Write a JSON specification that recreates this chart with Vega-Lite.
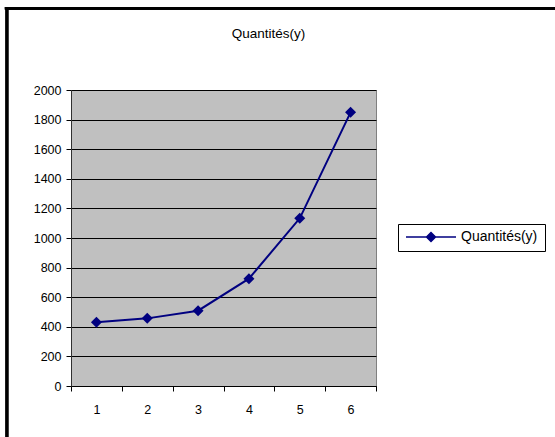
{
  "$schema": "https://vega.github.io/schema/vega-lite/v6.json",
  "autosize": {"type": "none"},
  "width": 305,
  "height": 296,
  "padding": {"left": 71, "top": 90, "right": 179, "bottom": 51},
  "background": "white",
  "title": {
    "text": "Quantités(y)",
    "font": "Liberation Sans",
    "fontSize": 13.5,
    "fontWeight": "normal",
    "color": "black",
    "anchor": "middle",
    "dx": 45,
    "offset": -35
  },
  "data": {
    "values": [
      {"x": 1, "y": 430, "series": "Quantités(y)"},
      {"x": 2, "y": 457, "series": "Quantités(y)"},
      {"x": 3, "y": 509, "series": "Quantités(y)"},
      {"x": 4, "y": 725, "series": "Quantités(y)"},
      {"x": 5, "y": 1133, "series": "Quantités(y)"},
      {"x": 6, "y": 1849, "series": "Quantités(y)"}
    ]
  },
  "resolve": {"axis": {"x": "independent", "y": "independent"}},
  "layer": [
    {
      "mark": {"type": "line", "strokeWidth": 2},
      "encoding": {
        "x": {
          "field": "x",
          "type": "quantitative",
          "scale": {"domain": [0.5, 6.5], "nice": false, "zero": false},
          "axis": {
            "orient": "bottom",
            "title": null,
            "values": [0.5, 1.5, 2.5, 3.5, 4.5, 5.5, 6.5],
            "labelExpr": "datum.value > 6 ? '' : format(datum.value + 0.5, 'd')",
            "labelOffset": 25.4,
            "labelPadding": 12,
            "labelOverlap": false,
            "labelBound": false,
            "labelFlush": false,
            "labelFont": "Liberation Sans",
            "labelFontSize": 12.5,
            "labelColor": "black",
            "tickSize": 5,
            "tickColor": "black",
            "domainColor": "black",
            "grid": false
          }
        },
        "y": {
          "field": "y",
          "type": "quantitative",
          "scale": {"domain": [0, 2000], "nice": false},
          "axis": {
            "orient": "left",
            "title": null,
            "values": [0, 200, 400, 600, 800, 1000, 1200, 1400, 1600, 1800, 2000],
            "format": "d",
            "labelOverlap": false,
            "labelBound": false,
            "labelFlush": false,
            "labelFont": "Liberation Sans",
            "labelFontSize": 12.5,
            "labelColor": "black",
            "labelPadding": 5,
            "tickSize": 5,
            "tickColor": "black",
            "domainColor": "#303030",
            "grid": true,
            "gridColor": "black",
            "gridOpacity": 1,
            "gridWidth": 1
          }
        },
        "color": {
          "field": "series",
          "type": "nominal",
          "scale": {"range": ["#000080"]},
          "legend": {
            "title": null,
            "orient": "none",
            "legendX": 327,
            "legendY": 134,
            "strokeColor": "black",
            "fillColor": "white",
            "padding": 7,
            "symbolType": "M-1,0H1M-0.18,0L0,-0.18L0.18,0L0,0.18Z",
            "symbolSize": 2500,
            "symbolStrokeWidth": 1.5,
            "symbolFillColor": "#000080",
            "symbolStrokeColor": "#000080",
            "clipHeight": 12,
            "labelFont": "Liberation Sans",
            "labelFontSize": 14,
            "labelColor": "black",
            "labelOffset": 4
          }
        }
      }
    },
    {
      "mark": {"type": "point", "shape": "diamond", "filled": true, "size": 121, "opacity": 1},
      "encoding": {
        "x": {"field": "x", "type": "quantitative", "axis": null},
        "y": {"field": "y", "type": "quantitative", "axis": null},
        "color": {"field": "series", "type": "nominal"}
      }
    },
    {
      "mark": {"type": "rule", "clip": false, "color": "black", "strokeWidth": 2.5},
      "encoding": {
        "x": {"datum": -0.76, "type": "quantitative", "axis": null},
        "y": {"datum": 2560, "type": "quantitative", "axis": null},
        "y2": {"datum": -500}
      }
    },
    {
      "mark": {"type": "rule", "clip": false, "color": "black", "strokeWidth": 2.5},
      "encoding": {
        "x": {"datum": -0.8, "type": "quantitative", "axis": null},
        "x2": {"datum": 11},
        "y": {"datum": 2552, "type": "quantitative", "axis": null}
      }
    }
  ],
  "config": {
    "view": {"fill": "#C0C0C0", "stroke": "#808080", "strokeWidth": 1}
  }
}
